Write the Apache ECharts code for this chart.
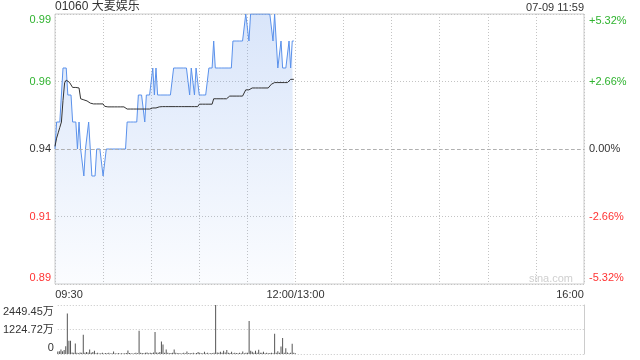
<!DOCTYPE html>
<html><head><meta charset="utf-8">
<script src="https://cdn.jsdelivr.net/npm/echarts/dist/echarts.min.js"></script>
<style>html,body{margin:0;padding:0;background:#fff}#c{width:640px;height:360px}</style>
</head><body><div id="c"></div>
<script>
const stockTitle = '01060 大麦娱乐';
const timeStamp = '07-09 11:59';
const watermark = 'sina.com';
const prevClose = 0.94;
const totalMinutes = 330;
const price = [
0.94,0.95,0.95,0.95,0.95,0.97,0.97,0.97,0.96,0.96,
0.96,0.95,0.95,0.95,0.94,0.95,0.94,0.94,0.93,0.94,
0.94,0.95,0.94,0.93,0.93,0.93,0.94,0.94,0.94,0.94,
0.93,0.93,0.94,0.94,0.94,0.94,0.94,0.94,0.94,0.94,
0.94,0.94,0.94,0.94,0.94,0.95,0.95,0.95,0.95,0.95,
0.95,0.95,0.96,0.96,0.96,0.96,0.95,0.96,0.96,0.96,
0.96,0.97,0.96,0.97,0.96,0.96,0.96,0.96,0.96,0.96,
0.96,0.96,0.96,0.96,0.97,0.97,0.97,0.97,0.97,0.97,
0.97,0.97,0.97,0.97,0.96,0.97,0.97,0.96,0.97,0.97,
0.96,0.96,0.96,0.96,0.96,0.96,0.97,0.97,0.97,0.98,
0.97,0.97,0.97,0.97,0.97,0.97,0.97,0.97,0.97,0.97,
0.97,0.98,0.98,0.98,0.98,0.98,0.98,0.98,0.98,0.99,
0.99,0.98,0.99,0.99,0.99,0.99,0.99,0.99,0.99,0.99,
0.99,0.99,0.99,0.99,0.99,0.99,0.98,0.99,0.98,0.97,
0.97,0.98,0.97,0.97,0.97,0.97,0.98,0.97,0.98,0.98
];
const avgPrice = [
0.941,0.944,0.946,0.948,0.950,0.958,0.9645,0.9655,0.965,0.9647,
0.9644,0.9628,0.9628,0.9628,0.9627,0.9626,0.9586,0.9584,0.9582,0.9580,
0.9578,0.9576,0.9570,0.9568,0.9567,0.9567,0.9567,0.9567,0.9567,0.9567,
0.9567,0.9558,0.9556,0.9556,0.9556,0.9556,0.9556,0.9556,0.9556,0.9556,
0.9556,0.9556,0.9556,0.9556,0.9550,0.9548,0.9548,0.9548,0.9548,0.9548,
0.9548,0.9548,0.9548,0.9548,0.9548,0.9548,0.9548,0.9548,0.9548,0.9548,
0.9548,0.9552,0.9552,0.9552,0.9552,0.9556,0.9557,0.9557,0.9557,0.9557,
0.9557,0.9557,0.9557,0.9557,0.9557,0.9557,0.9557,0.9557,0.9557,0.9557,
0.9557,0.9557,0.9557,0.9557,0.9557,0.9557,0.9557,0.9557,0.9557,0.9557,
0.9566,0.9566,0.9566,0.9566,0.9566,0.9566,0.9566,0.9566,0.9566,0.9586,
0.9586,0.9586,0.9586,0.9586,0.9586,0.9586,0.9586,0.9586,0.9586,0.9596,
0.9596,0.9596,0.9596,0.9596,0.9596,0.9596,0.9596,0.9596,0.9596,0.9619,
0.9619,0.9619,0.9619,0.9626,0.9626,0.9626,0.9626,0.9626,0.9626,0.9626,
0.9626,0.9626,0.9626,0.9626,0.9626,0.9640,0.9646,0.9646,0.9646,0.9646,
0.9646,0.9646,0.9646,0.9646,0.9646,0.9646,0.9646,0.9658,0.9658,0.9658
];
// volume in 万
const volume = [
120,140,220,140,200,390,2020,660,660,80,
60,520,60,40,80,60,960,60,100,80,
220,60,100,160,40,60,30,40,60,30,
50,40,60,30,40,120,40,30,50,30,
40,30,40,50,170,50,40,30,40,60,
40,1160,60,50,40,60,80,40,60,50,
70,1100,80,60,100,620,470,60,220,60,
40,50,60,220,60,40,50,30,40,60,
40,120,40,50,40,60,30,50,100,60,
40,40,110,40,60,30,50,40,60,2449.45,
80,60,110,60,160,80,200,60,50,110,
40,60,50,40,60,40,120,40,60,60,
1650,160,110,60,160,60,210,60,60,110,
40,60,40,50,60,40,1010,60,140,60,
370,800,60,290,80,40,60,510,60,40
];
const xTickLabels = {0: '09:30', 150: '12:00/13:00', 330: '16:00'};
const priceTickLabels = ['0.89', '0.91', '0.94', '0.96', '0.99'];
const pctTickLabels = ['-5.32%', '-2.66%', '0.00%', '+2.66%', '+5.32%'];
const volTickLabels = ['0', '1224.72万', '2449.45万'];
const priceMin = 0.89, priceMax = 0.99, priceStep = 0.025;
const volMax = 2449.45;

const FONT = "'Liberation Sans', Arial, 'Noto Sans CJK SC', sans-serif";
const GREEN = '#2fb32f', RED = '#ff3333', DARK = '#333';
const fs = 11;
function rs(color, pad) { return {color: color, fontSize: fs, fontFamily: FONT, padding: pad || [0,0,0,0]}; }
const yRich = {
  gt: rs(GREEN, [11,0,0,0]), g: rs(GREEN), n: rs(DARK), r: rs(RED), rb: rs(RED, [0,0,12,0]),
  gt2: rs(GREEN, [14,0,0,0]), rb2: rs(RED, [0,0,12,0])
};
function cls(v, i, n, topKey, botKey) {
  let k = v > prevClose + 1e-9 ? 'g' : (v < prevClose - 1e-9 ? 'r' : 'n');
  if (i === n - 1) k = topKey;
  if (i === 0) k = botKey;
  return k;
}

const chart = echarts.init(document.getElementById('c'), null, {renderer: 'canvas'});
chart.setOption({
  animation: false,
  backgroundColor: '#fff',
  textStyle: {fontFamily: FONT},
  title: [
    {text: stockTitle, left: 55, top: 1, padding: 0, textStyle: {fontSize: 12, fontWeight: 'normal', color: DARK, fontFamily: FONT}},
    {text: timeStamp, right: 56, top: 2, padding: 0, textStyle: {fontSize: 11, fontWeight: 'normal', color: DARK, fontFamily: FONT}},
    {text: watermark, right: 67, top: 273, padding: 0, textStyle: {fontSize: 11, fontWeight: 'normal', color: '#cfcfcf', fontFamily: FONT}}
  ],
  grid: [
    {left: 55, right: 56, top: 14, height: 270, show: true, borderColor: '#ccc', borderWidth: 1},
    {left: 55, right: 56, top: 305, height: 49}
  ],
  xAxis: [
    {type: 'value', gridIndex: 0, min: 0, max: totalMinutes, interval: 30,
     axisLine: {show: false}, axisTick: {show: false},
     splitLine: {show: true, lineStyle: {color: '#c4c4c4', type: [1, 2]}},
     axisLabel: {margin: 5, showMinLabel: true, showMaxLabel: true,
       formatter: function (v) {
         const t = xTickLabels[Math.round(v)];
         if (!t) return '';
         if (Math.round(v) === 0) return '{l|' + t + '}';
         if (Math.round(v) === totalMinutes) return '{rr|' + t + '}';
         return '{m|' + t + '}';
       },
       rich: {l: rs(DARK, [0,0,0,28]), m: rs(DARK), rr: rs(DARK, [0,28,0,0])}
     }},
    {type: 'value', gridIndex: 1, min: 0, max: totalMinutes, interval: 30,
     axisLine: {show: false}, axisTick: {show: false}, axisLabel: {show: false}, splitLine: {show: false}}
  ],
  yAxis: [
    {type: 'value', gridIndex: 0, position: 'left', min: priceMin, max: priceMax, interval: priceStep,
     axisLine: {show: false}, axisTick: {show: false},
     splitLine: {show: true, lineStyle: {color: '#c4c4c4', type: [1, 2]}},
     axisLabel: {margin: 4, showMinLabel: true, showMaxLabel: true,
       formatter: function (v, i) { const k = cls(v, i, priceTickLabels.length, 'gt', 'rb'); return '{' + k + '|' + priceTickLabels[i] + '}'; },
       rich: yRich}},
    {type: 'value', gridIndex: 0, position: 'right', min: priceMin, max: priceMax, interval: priceStep,
     axisLine: {show: false}, axisTick: {show: false}, splitLine: {show: false},
     axisLabel: {margin: 5, showMinLabel: true, showMaxLabel: true,
       formatter: function (v, i) { const k = cls(v, i, pctTickLabels.length, 'gt2', 'rb2'); return '{' + k + '|' + pctTickLabels[i] + '}'; },
       rich: yRich}},
    {type: 'value', gridIndex: 1, position: 'left', min: 0, max: volMax, interval: volMax / 2,
     axisLine: {show: false}, axisTick: {show: false},
     splitLine: {show: true, lineStyle: {color: '#c4c4c4', type: [1, 2]}},
     axisLabel: {margin: 4, showMinLabel: true, showMaxLabel: true,
       formatter: function (v, i) {
         const k = i === 0 ? 'vb' : (i === volTickLabels.length - 1 ? 'vt' : 'vm');
         return '{' + k + '|' + volTickLabels[i] + '}';
       },
       rich: {vt: rs(DARK, [14,0,0,0]), vm: rs(DARK), vb: rs(DARK, [0,0,12,0])}}},
    {type: 'value', gridIndex: 1, position: 'right', min: 0, max: volMax,
     axisLine: {show: true, lineStyle: {color: '#ccc'}}, axisTick: {show: false},
     axisLabel: {show: false}, splitLine: {show: false}}
  ],
  series: [
    {name: 'price', type: 'line', xAxisIndex: 0, yAxisIndex: 0, symbol: 'none', silent: true,
     data: price.map((v, i) => [i, v]),
     lineStyle: {color: '#5a91eb', width: 1},
     areaStyle: {color: new echarts.graphic.LinearGradient(0, 0, 0, 1, [
       {offset: 0, color: 'rgba(100,150,235,0.35)'}, {offset: 1, color: 'rgba(100,150,235,0.04)'}])},
     markLine: {silent: true, symbol: ['none', 'none'], label: {show: false},
       lineStyle: {color: '#b0b0b0', type: [3, 3], width: 1}, data: [{yAxis: prevClose}]}},
    {name: 'avg', type: 'line', xAxisIndex: 0, yAxisIndex: 0, symbol: 'none', silent: true,
     data: avgPrice.map((v, i) => [i, v]),
     lineStyle: {color: '#333', width: 1}},
    {name: 'vol', type: 'bar', xAxisIndex: 1, yAxisIndex: 2, silent: true, barWidth: 1,
     data: volume.map((v, i) => [i, v]),
     itemStyle: {color: '#555'}}
  ]
});
</script></body></html>
